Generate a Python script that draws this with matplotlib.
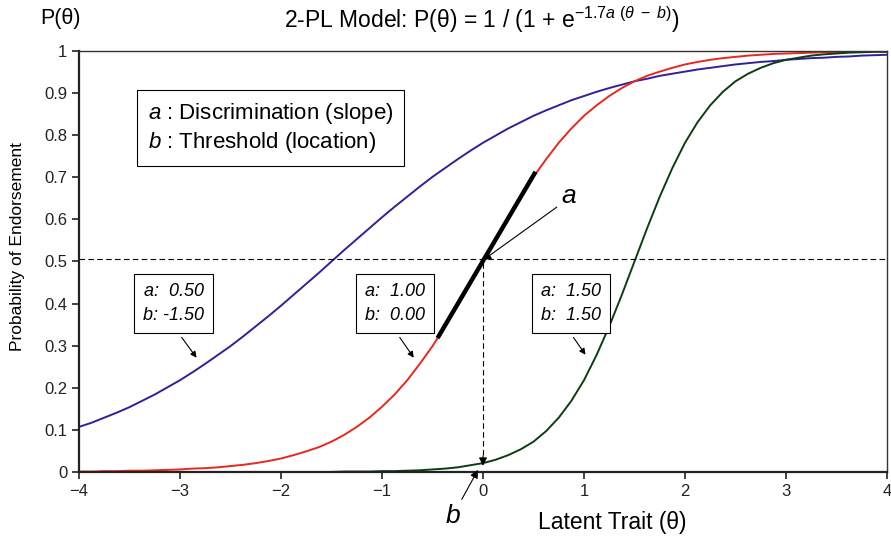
import numpy as np
from matplotlib import pyplot as plt

plt.rcParams['font.family'] = ['Liberation Sans', 'DejaVu Sans']
plt.rcParams['mathtext.fontset'] = 'custom'
plt.rcParams['mathtext.rm'] = 'Liberation Sans'
plt.rcParams['mathtext.it'] = 'Liberation Sans:italic'

# latent trait grid, curves read every 0.125
theta = np.linspace(-4, 4, 65)

# a=0.50, b=-1.50
p_blue = [0.107, 0.117, 0.129, 0.141, 0.154, 0.169, 0.184, 0.201, 0.218, 0.237, 0.257,
          0.278, 0.299, 0.322, 0.346, 0.370, 0.395, 0.421, 0.447, 0.473, 0.500, 0.527,
          0.553, 0.579, 0.605, 0.630, 0.654, 0.678, 0.701, 0.722, 0.743, 0.763, 0.782,
          0.799, 0.816, 0.831, 0.846, 0.859, 0.871, 0.883, 0.893, 0.903, 0.912, 0.920,
          0.928, 0.934, 0.941, 0.946, 0.951, 0.956, 0.960, 0.964, 0.968, 0.971, 0.974,
          0.976, 0.979, 0.981, 0.983, 0.984, 0.986, 0.987, 0.989, 0.990, 0.991]
# a=1.00, b=0.00
p_red = [0.001, 0.001, 0.002, 0.002, 0.003, 0.003, 0.004, 0.005, 0.006, 0.008, 0.009,
         0.011, 0.014, 0.017, 0.021, 0.026, 0.032, 0.040, 0.049, 0.059, 0.072, 0.088,
         0.107, 0.129, 0.155, 0.184, 0.218, 0.257, 0.299, 0.346, 0.395, 0.447, 0.500,
         0.553, 0.605, 0.654, 0.701, 0.743, 0.782, 0.816, 0.846, 0.871, 0.893, 0.912,
         0.928, 0.941, 0.951, 0.960, 0.968, 0.974, 0.979, 0.983, 0.986, 0.989, 0.991,
         0.993, 0.994, 0.995, 0.996, 0.997, 0.997, 0.998, 0.998, 0.999, 0.999]
# a=1.50, b=1.50
p_green = [0.000, 0.000, 0.000, 0.000, 0.000, 0.000, 0.000, 0.000, 0.000, 0.000, 0.000,
           0.000, 0.000, 0.000, 0.000, 0.000, 0.000, 0.000, 0.000, 0.000, 0.000, 0.001,
           0.001, 0.001, 0.002, 0.002, 0.003, 0.004, 0.006, 0.008, 0.011, 0.016, 0.021,
           0.029, 0.040, 0.054, 0.072, 0.097, 0.129, 0.169, 0.218, 0.278, 0.346, 0.421,
           0.500, 0.579, 0.654, 0.722, 0.782, 0.831, 0.871, 0.903, 0.928, 0.946, 0.960,
           0.971, 0.979, 0.984, 0.989, 0.992, 0.994, 0.996, 0.997, 0.998, 0.998]

# tangent segment on the a=1 curve
tangent_x = [-0.45, 0.52]
tangent_y = [0.318, 0.713]

b_ref = 0.0
p_ref = 0.505

item_labels = ['a:  0.50\nb: -1.50', 'a:  1.00\nb:  0.00', 'a:  1.50\nb:  1.50']
item_pos = [(-3.06, 0.40), (-0.87, 0.40), (0.87, 0.40)]
item_arrow_from = [(-3.0, 0.325), (-0.84, 0.325), (0.88, 0.325)]
item_arrow_to = [(-2.82, 0.266), (-0.67, 0.266), (1.03, 0.273)]

fig = plt.figure(figsize=(8.91, 5.4), dpi=100)
ax = fig.add_axes([0.0887, 0.126, 0.9068, 0.7796])

ax.plot(theta, p_blue, color='#30209c', lw=1.4)
ax.plot(theta, p_red, color='#e8281e', lw=1.4)
ax.plot(theta, p_green, color='#0b3f10', lw=1.4)
ax.plot(tangent_x, tangent_y, color='black', lw=3.2, solid_capstyle='butt')

ax.axhline(p_ref, color='black', lw=0.8, ls=(0, (5, 3)))
ax.plot([b_ref, b_ref], [0.04, p_ref], color='black', lw=0.8, ls=(0, (5, 3)))
ax.annotate('', xy=(b_ref, 0.008), xytext=(b_ref, 0.045),
            arrowprops=dict(arrowstyle='-|>', color='black', lw=0.8, mutation_scale=12))

for lab, pos, a0, a1 in zip(item_labels, item_pos, item_arrow_from, item_arrow_to):
    ax.text(pos[0], pos[1], lab, ha='center', va='center', fontsize=13, style='italic',
            linespacing=1.5,
            bbox=dict(boxstyle='square,pad=0.5', fc='white', ec='black', lw=0.8))
    ax.annotate('', xy=a1, xytext=a0,
                arrowprops=dict(arrowstyle='-|>', color='black', lw=0.8, mutation_scale=9))

ax.text(-3.32, 0.817, '$\\mathit{a}$ : Discrimination (slope)\n$\\mathit{b}$ : Threshold (location)',
        ha='left', va='center', fontsize=16, linespacing=1.25,
        bbox=dict(boxstyle='square,pad=0.5', fc='white', ec='black', lw=0.8))

ax.text(0.85, 0.655, 'a', fontsize=19, style='italic', ha='center', va='center')
ax.annotate('', xy=(0.0, 0.503), xytext=(0.73, 0.629),
            arrowprops=dict(arrowstyle='-|>', color='black', lw=0.8, mutation_scale=12,
                            shrinkA=0, shrinkB=0))
ax.text(-0.3, -0.105, 'b', fontsize=19, style='italic', ha='center', va='center')
ax.annotate('', xy=(-0.05, 0.005), xytext=(-0.21, -0.065), annotation_clip=False,
            arrowprops=dict(arrowstyle='-|>', color='black', lw=0.8, mutation_scale=12,
                            shrinkA=0, shrinkB=0))

ax.set_xlim(-4, 4)
ax.set_ylim(0, 1)
ax.set_xticks(np.arange(-4, 5, 1))
ax.set_yticks(np.arange(0, 1.01, 0.1))
ax.set_yticklabels(['0', '0.1', '0.2', '0.3', '0.4', '0.5', '0.6', '0.7', '0.8', '0.9', '1'])
ax.tick_params(direction='out', length=5, width=1.2, labelsize=12, colors='#222222')
for s in ['left', 'bottom']:
    ax.spines[s].set_linewidth(1.6)
    ax.spines[s].set_color('#222222')
for s in ['top', 'right']:
    ax.spines[s].set_linewidth(1.0)
    ax.spines[s].set_color('#333333')

ax.set_ylabel('Probability of Endorsement', fontsize=12.5)
ax.yaxis.set_label_coords(-0.067, 0.535)
fig.text(0.687, 0.033, 'Latent Trait (\u03b8)', ha='center', va='center', fontsize=16.5)
fig.text(0.068, 0.965, 'P(\u03b8)', ha='center', va='center', fontsize=15.5)
fig.text(0.541, 0.963,
         '2-PL Model: P(\u03b8) = 1 / (1 + e$^{-1.7\\mathit{a}\\ (\\theta\\ -\\ \\mathit{b})}$)',
         ha='center', va='center', fontsize=16.5)

fig.savefig('out.png', dpi=100)
